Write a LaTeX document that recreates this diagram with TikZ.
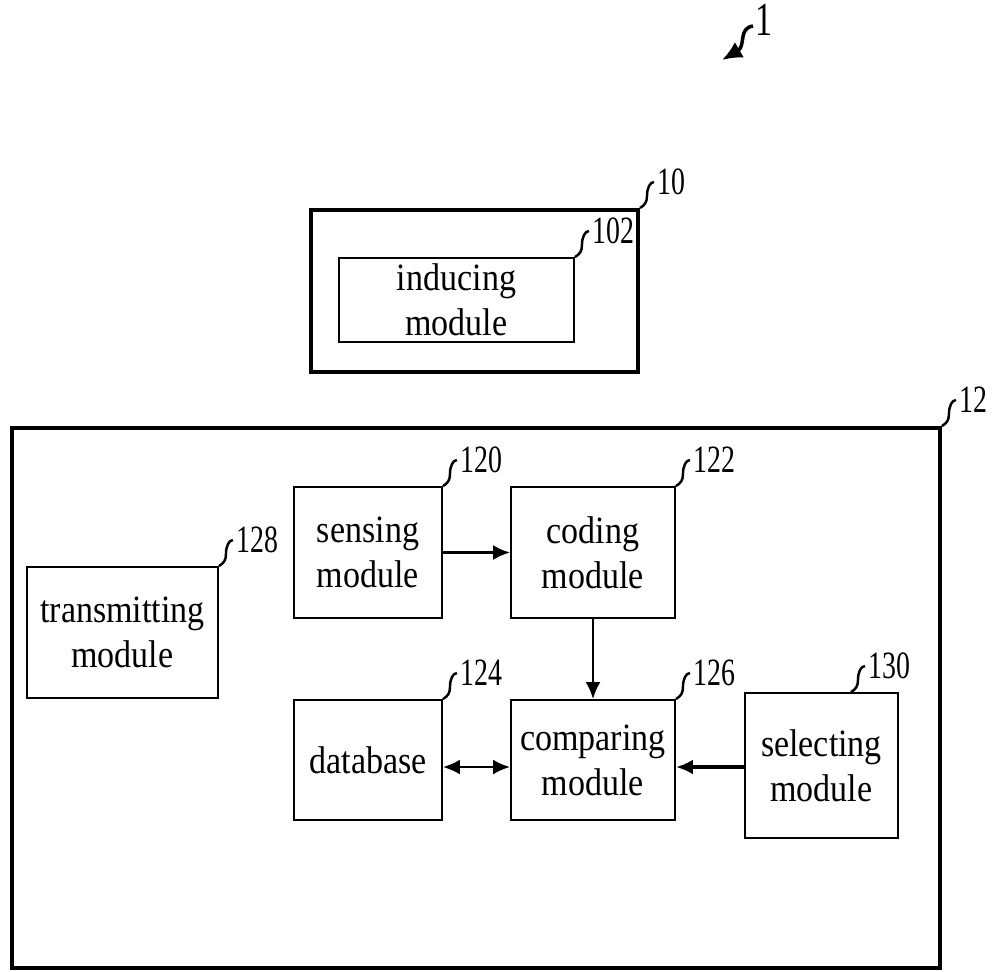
\documentclass[tikz,border=0pt]{standalone}
\usepackage{fontspec}
\setmainfont{Liberation Serif}
\newfontfamily\boxfont[FakeStretch=0.88]{Liberation Serif}
\newfontfamily\numfont[FakeStretch=0.72]{Liberation Serif}
\usetikzlibrary{arrows.meta,calc}

\tikzset{
  outerbox/.style={draw, line width=2.3pt, minimum width=#1},
  blockbox/.style={draw, line width=1.1pt, align=center, inner sep=1pt,
    font=\boxfont\fontsize{22}{25.5}\selectfont},
  numlbl/.style={inner sep=0pt, font=\numfont\fontsize{22}{22}\selectfont},
  leader/.style={line width=1.4pt},
  flow/.style={line width=1.4pt, -{Latex[length=3.4mm,width=3mm]}},
}

% reference numeral with its little hook, starting at a box corner
\newcommand\refnum[3]{%
  \draw[leader] (#1) .. controls +(5,-3) and +(0,6) .. ++(7,-12)
    .. controls +(0,-8) and +(-4,0) .. ++(7,-14)
    node[numlbl, anchor=west, xshift=1.5pt] (#2) {#3};}

\begin{document}
\begin{tikzpicture}[x=0.02cm, y=-0.02cm]
  \useasboundingbox (0,0) rectangle (996,971);

  % system number
  \node[numlbl, anchor=west, font=\numfont\fontsize{27}{27}\selectfont]
    (sys) at (755,20) {1};
  \draw[line width=2pt, -{Latex[length=4mm,width=3.6mm]}]
    (sys.west) ++(-2,6) .. controls (738,28) and (746,46) .. (722,60);

  % inducing device
  \node[outerbox=6.54cm, minimum height=3.24cm] (dev10) at (474.5,291) {};
  \node[blockbox, minimum width=4.70cm, minimum height=1.68cm]
    (induce) at (456.5,300) {inducing\\module};

  % recognition device
  \node[outerbox=18.56cm, minimum height=10.80cm] (dev12) at (476,698) {};
  \node[blockbox, minimum width=3.82cm, minimum height=2.62cm]
    (trans) at (122.5,632.5) {transmitting\\module};
  \node[blockbox, minimum width=2.96cm, minimum height=2.62cm]
    (sense) at (368,552.5) {sensing\\module};
  \node[blockbox, minimum width=3.28cm, minimum height=2.62cm]
    (code) at (593,552.5) {coding\\module};
  \node[blockbox, minimum width=2.96cm, minimum height=2.40cm]
    (data) at (368,760) {database};
  \node[blockbox, minimum width=3.28cm, minimum height=2.40cm]
    (comp) at (593,760) {comparing\\module};
  \node[blockbox, minimum width=3.06cm, minimum height=2.90cm]
    (select) at (821.5,765.5) {selecting\\module};

  % data flow
  \coordinate (cmpin) at ([yshift=-0.14cm]comp.east);
  \draw[flow] (sense) -- (code);
  \draw[flow] (code) -- (comp);
  \draw[flow, {Latex[length=3.4mm,width=3mm]}-{Latex[length=3.4mm,width=3mm]}]
    ([yshift=-0.14cm]data.east) -- ([yshift=-0.14cm]comp.west);
  \draw[flow, line width=2.2pt] (select.west |- cmpin) -- (cmpin);

  % reference numerals
  \refnum{dev10.north east}{n10}{10}
  \refnum{induce.north east}{n102}{102}
  \refnum{dev12.north east}{n12}{12}
  \refnum{trans.north east}{n128}{128}
  \refnum{sense.north east}{n120}{120}
  \refnum{code.north east}{n122}{122}
  \refnum{data.north east}{n124}{124}
  \refnum{comp.north east}{n126}{126}
  \refnum{$(select.north east)+(-48,0)$}{n130}{130}
\end{tikzpicture}
\end{document}
